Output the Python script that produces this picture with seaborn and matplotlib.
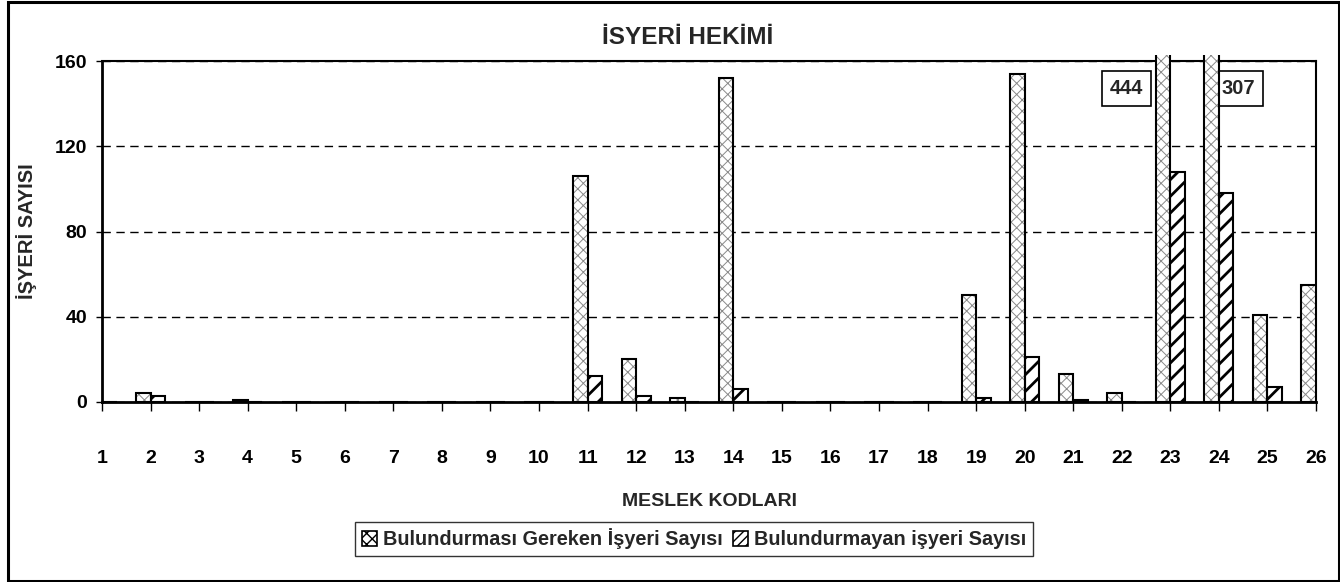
import matplotlib
matplotlib.use("Agg")
import matplotlib.pyplot as plt
import seaborn as sns
import pandas as pd
from matplotlib.patches import Rectangle, Patch
from matplotlib.transforms import Bbox, TransformedBbox

# Occupation codes and workplace counts
codes = [str(i) for i in range(1, 27)]
required = [0, 4, 0, 1, 0, 0, 0, 0, 0, 0, 106, 20, 2, 152, 0, 0, 0, 0, 50, 154, 13, 4, 444, 307, 41, 55]
lacking = [0, 3, 0, 0, 0, 0, 0, 0, 0, 0, 12, 3, 0, 6, 0, 0, 0, 0, 2, 21, 1, 0, 108, 98, 7, 0]
series_names = ["Bulundurması Gereken İşyeri Sayısı", "Bulundurmayan işyeri Sayısı"]
y_ticks = [0, 40, 80, 120, 160]

df = pd.DataFrame({
    "kod": codes * 2,
    "sayi": required + lacking,
    "seri": [series_names[0]] * len(codes) + [series_names[1]] * len(codes),
})

sns.set_style("white")
plt.rcParams["font.family"] = ["Liberation Sans", "DejaVu Sans"]
plt.rcParams["font.weight"] = "bold"
plt.rcParams["axes.labelweight"] = "bold"

W, H = 1340, 582
fig = plt.figure(figsize=(W / 100, H / 100), dpi=100)
left, right, top, bottom = 102, 1316, 61, 402
ax = fig.add_axes([left / W, 1 - bottom / H, (right - left) / W, (bottom - top) / H])

sns.barplot(data=df, x="kod", y="sayi", hue="seri", order=codes, hue_order=series_names,
            palette=["white", "white"], saturation=1, width=0.6, gap=0, dodge=True,
            edgecolor="black", linewidth=1.5, legend=False, ax=ax, err_kws={"linewidth": 0})

ax.set_xlim(0, len(codes) - 1)
ax.set_ylim(0, 160)
ax.set_yticks(y_ticks)
ax.set_yticklabels([str(v) for v in y_ticks])
ax.set_xticks(range(len(codes)))
ax.set_xticklabels(codes)

# let the tall bars poke slightly above the frame
clip = TransformedBbox(Bbox.from_extents(0, -5, len(codes) - 1, 162.6), ax.transData)

styles = [("xxx", "#8a8a8a", 0.7), ("//", "black", 2.0)]
for cont, (hatch, hcol, hlw) in zip(ax.containers, styles):
    for bar in cont:
        bar.set_facecolor("white")
        bar.set_hatch(hatch)
        bar.set_edgecolor(hcol)
        bar.set_linewidth(0)
        if hasattr(bar, "set_hatch_linewidth"):
            bar.set_hatch_linewidth(hlw)
        bar.set_zorder(3)
        bar.set_clip_box(clip)
        outline = Rectangle(bar.get_xy(), bar.get_width(), bar.get_height(), fill=False,
                            edgecolor="black", linewidth=1.5, zorder=3.5)
        ax.add_patch(outline)
        outline.set_clip_box(clip)

# value boxes for the two bars that run off the scale
for idx, dx in [(22, -0.9), (23, 0.39)]:
    ax.text(idx + dx, 147.3, f"{required[idx]}", ha="center", va="center", fontsize=14.5,
            fontweight="bold", zorder=2.5,
            bbox=dict(boxstyle="square,pad=0.4", facecolor="white", edgecolor="black", linewidth=1.2))

ax.yaxis.grid(True, linestyle=(0, (6, 4)), color="black", linewidth=1)
ax.xaxis.grid(False)
ax.set_axisbelow(True)

for side in ["left", "bottom"]:
    ax.spines[side].set_linewidth(2)
for side in ["top", "right"]:
    ax.spines[side].set_linewidth(1.5)
for sp in ax.spines.values():
    sp.set_color("black")
    sp.set_visible(True)

ax.tick_params(axis="x", direction="out", length=6.5, width=1, pad=28, labelsize=14, colors="black")
ax.tick_params(axis="y", direction="out", length=4.5, width=1, pad=6, labelsize=14, colors="black")
ax.tick_params(bottom=True, left=True)

ax.set_xlabel("MESLEK KODLARI", fontsize=14, fontweight="bold")
ax.xaxis.label.set_va("center")
ax.xaxis.set_label_coords(0.5, (bottom - 501) / (bottom - top))
ax.set_ylabel("İŞYERİ SAYISI", fontsize=14.5, fontweight="bold")
ax.yaxis.label.set_va("center")
ax.yaxis.set_label_coords((27 - left) / (right - left), 0.5)

fig.text(688 / W, 1 - 38 / H, "İSYERİ HEKİMİ", ha="center", va="center", fontsize=17.5, fontweight="bold")

handles = [Patch(facecolor="white", edgecolor="black", hatch="xxx", linewidth=1.2),
           Patch(facecolor="white", edgecolor="black", hatch="////", linewidth=1.2)]
leg = fig.legend(handles, series_names, loc="center", bbox_to_anchor=(694 / W, 1 - 539 / H), ncol=2,
                 frameon=True, fancybox=False, edgecolor="black", fontsize=14.3,
                 handlelength=0.75, handleheight=0.75, handletextpad=0.3, columnspacing=0.5,
                 borderpad=0.35, borderaxespad=0)
leg.get_frame().set_linewidth(1)
for t in leg.get_texts():
    t.set_fontweight("bold")

# outer chart border
fig.patches.append(Rectangle((7.5 / W, 1.5 / H), (W - 9) / W, (H - 3) / H, transform=fig.transFigure,
                             fill=False, edgecolor="black", linewidth=2.2, zorder=10))

fig.savefig("out.png", dpi=100)
